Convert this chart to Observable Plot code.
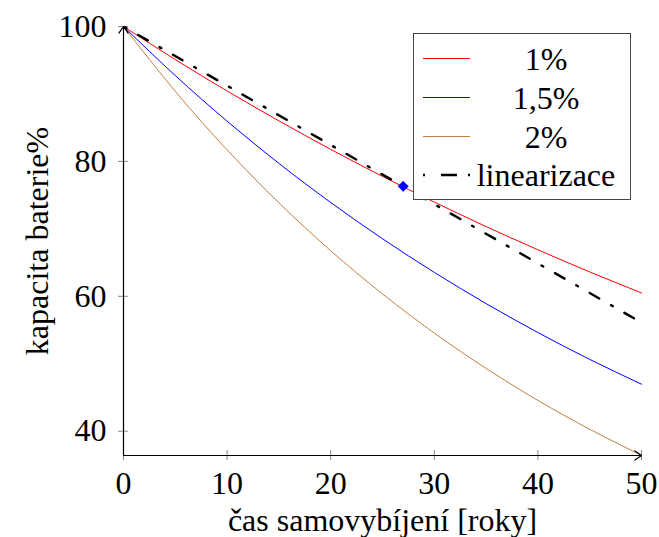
<!DOCTYPE html>
<html>
<head>
<meta charset="utf-8">
<script src="https://cdn.jsdelivr.net/npm/d3@7"></script>
<script src="https://cdn.jsdelivr.net/npm/@observablehq/plot@0.6"></script>
<style>
  body { margin: 0; background: white; }
  #wrap { position: relative; width: 659px; height: 537px; }
  #legend { position: absolute; left: 413px; top: 33px; }
  svg, svg text { font-family: "Liberation Serif", "DejaVu Serif", serif !important; }
</style>
</head>
<body>
<div id="wrap"><div id="chart"></div><div id="legend"></div></div>
<script>
const years = [0, 5, 10, 15, 20, 25, 30, 35, 40, 45, 50];
const cap1 = [100, 95.1, 90.44, 86.01, 81.79, 77.78, 73.97, 70.34, 66.9, 63.62, 60.5];
const cap15 = [100, 92.72, 85.97, 79.71, 73.91, 68.53, 63.55, 58.92, 54.63, 50.65, 46.97];
const cap2 = [100, 90.39, 81.71, 73.86, 66.76, 60.35, 54.55, 49.31, 44.57, 40.29, 36.42];
const linYears = [0, 50];
const linValues = [100, 56.1];
const markerX = [27];
const markerY = [76.3];
const seriesNames = ["1%", "1,5%", "2%", "linearizace"];
const seriesColors = ["#ff0000", "#0000ff", "#bf8040", "black"];
const xTicks = [0, 10, 20, 30, 40, 50];
const yTicks = [40, 60, 80, 100];
const xLabel = "čas samovybíjení [roky]";
const yLabel = "kapacita baterie%";

const xDomain = [0, 50];
const yDomain = [36.4, 100];

const rows = (vals) => years.map((t, i) => ({t, v: vals[i]}));
const linRows = linYears.map((t, i) => ({t, v: linValues[i]}));
const markRows = markerX.map((t, i) => ({t, v: markerY[i]}));

const chart = Plot.plot({
  width: 659,
  height: 537,
  marginLeft: 123,
  marginRight: 18,
  marginTop: 26,
  marginBottom: 82,
  style: {fontFamily: "'Liberation Serif', 'DejaVu Serif', serif", fontSize: "32px", background: "white", color: "black"},
  x: {domain: xDomain},
  y: {domain: yDomain},
  marks: [
    Plot.axisX({ticks: xTicks, tickSize: 5, tickPadding: 11, stroke: "#888", fill: "black", label: null}),
    Plot.axisX({ticks: xTicks, tickSize: -5, tickFormat: () => "", stroke: "#888", label: null}),
    Plot.axisY({ticks: yTicks, tickSize: 5, tickPadding: 12, stroke: "#888", fill: "black", label: null}),
    Plot.axisY({ticks: yTicks, tickSize: -5, tickFormat: () => "", stroke: "#888", label: null}),
    Plot.line(rows(cap2), {x: "t", y: "v", stroke: seriesColors[2], strokeWidth: 1, curve: "natural"}),
    Plot.line(rows(cap15), {x: "t", y: "v", stroke: seriesColors[1], strokeWidth: 1, curve: "natural"}),
    Plot.line(rows(cap1), {x: "t", y: "v", stroke: seriesColors[0], strokeWidth: 1, curve: "natural"}),
    Plot.line(linRows, {x: "t", y: "v", stroke: seriesColors[3], strokeWidth: 2.4, strokeDasharray: "11,13.5,2,13.5", strokeDashoffset: 23}),
    Plot.arrow([{x1: xDomain[0], y1: yDomain[0], x2: xDomain[1], y2: yDomain[0]}], {x1: "x1", y1: "y1", x2: "x2", y2: "y2", stroke: "black", strokeWidth: 1.2, headLength: 10, headAngle: 70}),
    Plot.arrow([{x1: xDomain[0], y1: yDomain[0], x2: xDomain[0], y2: yDomain[1]}], {x1: "x1", y1: "y1", x2: "x2", y2: "y2", stroke: "black", strokeWidth: 1.2, headLength: 10, headAngle: 70}),
    Plot.dot(markRows, {x: "t", y: "v", symbol: "diamond2", r: 4, fill: "#0000ff", stroke: "#0000ff"}),
    Plot.text([xLabel], {frameAnchor: "bottom", dy: 65, textAnchor: "middle", lineAnchor: "middle", fill: "black"}),
    Plot.text([yLabel], {frameAnchor: "left", dx: -86, rotate: -90, textAnchor: "middle", lineAnchor: "middle", fill: "black"})
  ]
});
document.getElementById("chart").appendChild(chart);

// legend
const lw = 217, lh = 166;
const leg = d3.select("#legend").append("svg").attr("width", lw + 2).attr("height", lh + 2)
  .style("font-size", "32px");
leg.append("rect").attr("x", 0.5).attr("y", 0.5).attr("width", lw).attr("height", lh)
  .attr("fill", "white").attr("stroke", "#444").attr("stroke-width", 1);
const rowY = [25.5, 64.5, 103.5, 142];
seriesNames.forEach((name, i) => {
  const g = leg.append("g");
  g.append("line").attr("x1", 10).attr("x2", 57).attr("y1", rowY[i]).attr("y2", rowY[i])
    .attr("stroke", seriesColors[i]).attr("stroke-width", i === 3 ? 2.4 : 1)
    .attr("stroke-dasharray", i === 3 ? "2,16,16,11,2" : null);
  g.append("text").attr("x", 133).attr("y", rowY[i]).attr("dy", "0.35em")
    .attr("text-anchor", "middle").attr("fill", "black").text(name);
});
</script>
</body>
</html>
